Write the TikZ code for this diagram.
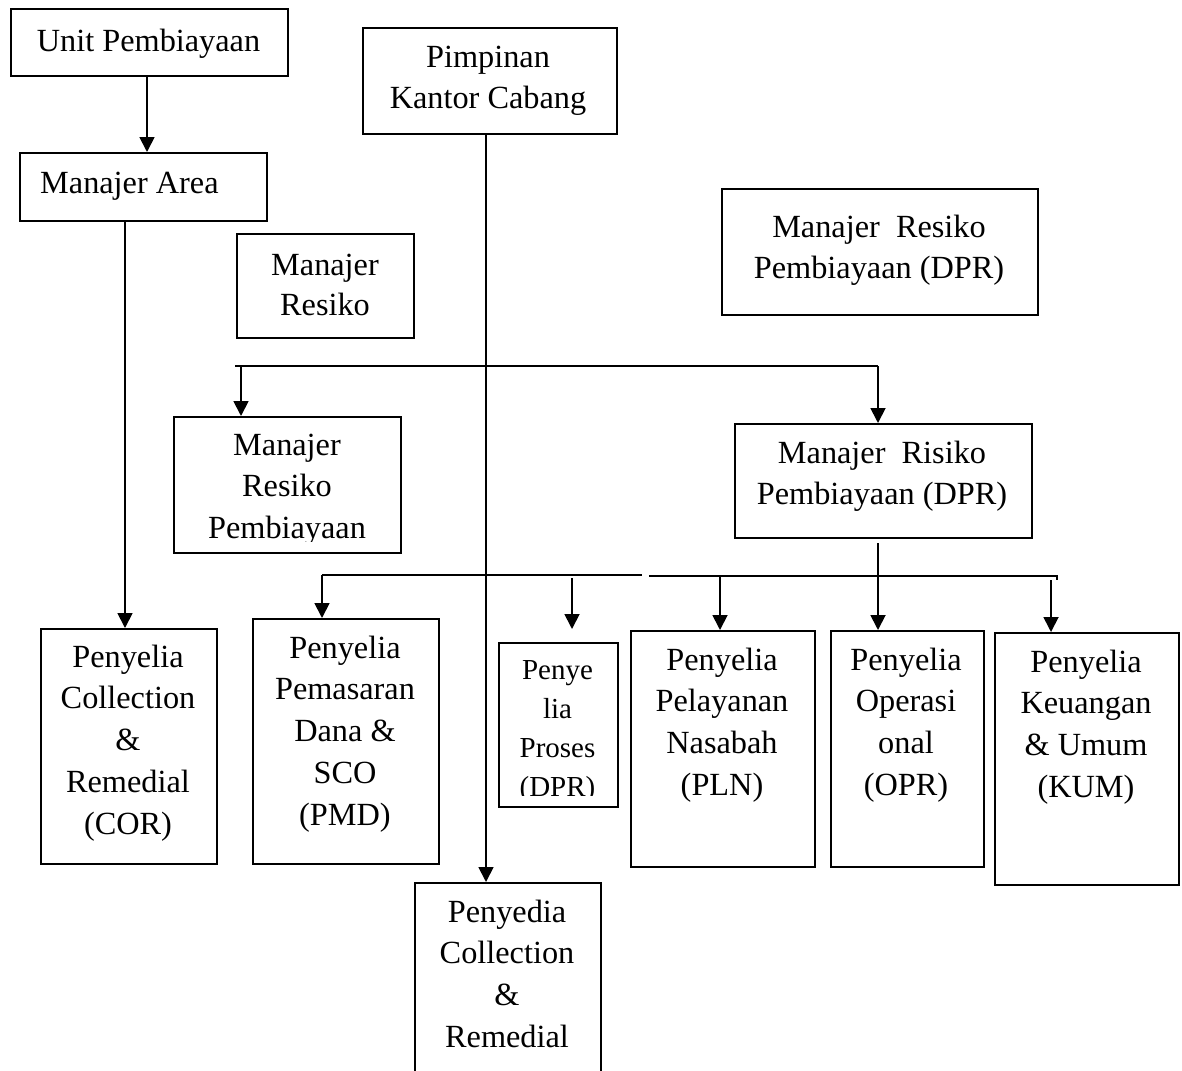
\documentclass[tikz,border=0pt]{standalone}
\usepackage{fontspec}
\setmainfont{Liberation Serif}
\usetikzlibrary{arrows.meta}
\newcommand{\fl}{\rule{0pt}{25pt}}
\begin{document}
\begin{tikzpicture}[x=1pt,y=1pt,
  box/.style={draw=black, line width=1.8pt, rectangle, anchor=north west, inner sep=0pt},
  txt/.style={inner sep=0pt, align=center, anchor=north, font=\fontsize{32.3}{41.7}\selectfont},
  smalltxt/.style={inner sep=0pt, align=center, anchor=north, font=\fontsize{29}{39}\selectfont},
  ln/.style={line width=1.8pt},
  arr/.style={line width=1.8pt, -{Triangle[width=15pt,length=15pt]}}]
\useasboundingbox (0,0) rectangle (1182,-1070);
\clip (0,0) rectangle (1182,-1070);
\fill[white] (0,0) rectangle (1182,-1070);

% boxes
\node[box, minimum width=277pt, minimum height=67pt] (up) at (10,-8) {};
\node[box, minimum width=254pt, minimum height=106pt] (pk) at (362,-27) {};
\node[box, minimum width=247pt, minimum height=68pt] (ma) at (19,-152) {};
\node[box, minimum width=177pt, minimum height=104pt] (mr) at (236,-233) {};
\node[box, minimum width=316pt, minimum height=126pt] (mrt) at (721,-188) {};
\node[box, minimum width=227pt, minimum height=136pt] (mrp) at (173,-416) {};
\node[box, minimum width=297pt, minimum height=114pt] (mrd) at (734,-423) {};
\node[box, minimum width=176pt, minimum height=235pt] (cor) at (40,-628) {};
\node[box, minimum width=186pt, minimum height=245pt] (pmd) at (252,-618) {};
\node[box, minimum width=119pt, minimum height=164pt] (pro) at (498,-642) {};
\node[box, minimum width=184pt, minimum height=236pt] (pln) at (630,-630) {};
\node[box, minimum width=153pt, minimum height=236pt] (opr) at (830,-630) {};
\node[box, minimum width=184pt, minimum height=252pt] (kum) at (994,-632) {};
\node[box, minimum width=186pt, minimum height=210pt] (pcr) at (414,-882) {};

% texts
\node[txt] (upT) at (148.5,-26) {\fl Unit Pembiayaan};
\node[txt] (pkT) at (488,-42) {\fl Pimpinan\\Kantor Cabang};
\node[txt, anchor=north west] (maT) at (40,-168) {\fl Manajer Area};
\node[txt, font=\fontsize{32.3}{40}\selectfont] (mrT) at (325,-250) {\fl Manajer\\Resiko};
\node[txt] (mrtT) at (879,-212) {\fl Manajer\ \ Resiko\\Pembiayaan (DPR)};
\begin{scope}
  \clip (173,-416) rectangle (400,-541);
  \node[txt] (mrpT) at (287,-430) {\fl Manajer\\Resiko\\Pembiayaan};
\end{scope}
\node[txt] (mrdT) at (882,-438) {\fl Manajer\ \ Risiko\\Pembiayaan (DPR)};
\node[txt] (corT) at (128,-642) {\fl Penyelia\\Collection\\\&\\Remedial\\(COR)};
\node[txt] (pmdT) at (345,-633) {\fl Penyelia\\Pemasaran\\Dana \&\\SCO\\(PMD)};
\begin{scope}
  \clip (498,-642) rectangle (617,-795);
  \node[smalltxt] (proT) at (557.5,-654) {\fl Penye\\lia\\Proses\\(DPR)};
\end{scope}
\node[txt] (plnT) at (722,-645) {\fl Penyelia\\Pelayanan\\Nasabah\\(PLN)};
\node[txt] (oprT) at (906,-645) {\fl Penyelia\\Operasi\\onal\\(OPR)};
\node[txt] (kumT) at (1086,-647) {\fl Penyelia\\Keuangan\\\& Umum\\(KUM)};
\node[txt] (pcrT) at (507,-897) {\fl Penyedia\\Collection\\\&\\Remedial};

% helper coordinates
\coordinate (xa) at (147,0);
\coordinate (xc) at (125,0);
\coordinate (xp) at (486,0);
\coordinate (h1L) at (235,-366);
\coordinate (h1R) at (878,-366);
\coordinate (d1) at (241,-366);
\coordinate (h2L) at (322,-575);
\coordinate (h2M) at (642,-575);
\coordinate (h2N) at (649,-576);
\coordinate (h2R) at (1057,-576);
\coordinate (h2T) at (1057,-580);
\coordinate (prS) at (572,-578);
\coordinate (prE) at (572,-629);
\coordinate (plS) at (720,-576);
\coordinate (kuS) at (1051,-580);
\coordinate (mdS) at (878,-543);

% connectors
\draw[arr] (up.south -| xa) -- (ma.north -| xa);
\draw[arr] (ma.south -| xc) -- (cor.north -| xc);
\draw[arr] (pk.south -| xp) -- (pcr.north -| xp);
\draw[ln] (h1L) -- (h1R);
\draw[arr] (d1) -- (mrp.north -| d1);
\draw[arr] (h1R) -- (mrd.north -| h1R);
\draw[arr] (mdS) -- (opr.north -| mdS);
\draw[ln] (h2L) -- (h2M);
\draw[ln] (h2N) -- (h2R) -- (h2T);
\draw[arr] (h2L) -- (pmd.north -| h2L);
\draw[arr] (prS) -- (prE);
\draw[arr] (plS) -- (pln.north -| plS);
\draw[arr] (kuS) -- (kum.north -| kuS);
\end{tikzpicture}
\end{document}
